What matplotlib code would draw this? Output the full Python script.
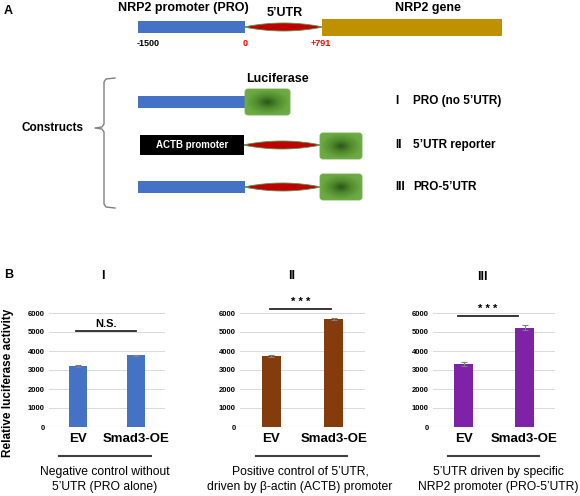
import numpy as np
import matplotlib
matplotlib.use("Agg")
import matplotlib.pyplot as plt
from matplotlib.patches import Rectangle, FancyBboxPatch, Polygon
from matplotlib.colors import LinearSegmentedColormap

plt.rcParams['font.family'] = ['Liberation Sans', 'DejaVu Sans']

# ---------------- data ----------------
groups = ["EV", "Smad3-OE"]
panel_titles = ["I", "II", "III"]
vals_I = [3220, 3770]
err_I = [60, 25]
vals_II = [3740, 5700]
err_II = [40, 50]
vals_III = [3320, 5220]
err_III = [110, 140]
sig_labels = ["N.S.", "* * *", "* * *"]
sig_heights = [5050, 6200, 5850]
yticks = [0, 1000, 2000, 3000, 4000, 5000, 6000]
bar_colors = ["#4472c4", "#843c0c", "#7e22a8"]
descriptions = [
    ["Negative control without", "5\u2019UTR (PRO alone)"],
    ["Positive control of 5\u2019UTR,", "driven by \u03b2-actin (ACTB) promoter"],
    ["5\u2019UTR driven by specific", "NRP2 promoter (PRO-5\u2019UTR)"],
]
construct_labels = [("I", "PRO (no 5\u2019UTR)"), ("II", "5\u2019UTR reporter"), ("III", "PRO-5\u2019UTR")]

W, H = 580, 496
fig = plt.figure(figsize=(W / 100, H / 100), dpi=100)
ov = fig.add_axes([0, 0, 1, 1])
ov.set_xlim(0, W)
ov.set_ylim(H, 0)
ov.axis('off')

BLUE = "#4472c4"
GOLD = "#bf9000"
RED = "#c00000"

green_cmap = LinearSegmentedColormap.from_list("g", ["#2c5519", "#4f8a2c", "#6aa842", "#70ad47"])


def green_box(x0, y0, w, h):
    patch = FancyBboxPatch((x0, y0), w, h, boxstyle="round,pad=0,rounding_size=3",
                           fc='none', ec='#74b04a', lw=0.6, zorder=4)
    ov.add_patch(patch)
    yy, xx = np.mgrid[-1:1:80j, -1:1:80j]
    r = np.sqrt(xx ** 2 + yy ** 2) / np.sqrt(2)
    im = ov.imshow(r, extent=(x0, x0 + w, y0 + h, y0), cmap=green_cmap, vmin=0, vmax=1,
                   aspect='auto', zorder=3, interpolation='bilinear')
    im.set_clip_path(patch)


def lens(x0, x1, yc, h):
    t = np.linspace(0, 1, 60)
    xs = x0 + t * (x1 - x0)
    dy = h / 2 * np.sin(np.pi * t) ** 0.8
    pts = np.concatenate([np.column_stack([xs, yc - dy]), np.column_stack([xs[::-1], yc + dy[::-1]])])
    ov.add_patch(Polygon(pts, closed=True, fc=RED, ec='#4e9a4e', lw=0.6, zorder=3))


# ---------------- Panel A ----------------
ov.text(4, 11, "A", fontsize=9, fontweight='bold', va='center', ha='left')
ov.text(183, 8, "NRP2 promoter (PRO)", fontsize=9, fontweight='bold', ha='center', va='center')
ov.text(285, 13, "5\u2019UTR", fontsize=9, fontweight='bold', ha='center', va='center')
ov.text(428, 8, "NRP2 gene", fontsize=9, fontweight='bold', ha='center', va='center')

ov.add_patch(Rectangle((138, 21), 107, 12, fc=BLUE, ec='none', zorder=3))
lens(245, 322, 27, 8)
ov.add_patch(Rectangle((322, 19), 180, 17, fc=GOLD, ec='none', zorder=3))
ov.text(148, 44, "-1500", fontsize=6.5, fontweight='bold', ha='center', va='center')
ov.text(245, 44, "0", fontsize=6.5, fontweight='bold', color='#ff0000', ha='center', va='center')
ov.text(321, 44, "+791", fontsize=6.5, fontweight='bold', color='#ff0000', ha='center', va='center')

ov.text(277, 79, "Luciferase", fontsize=9, fontweight='bold', ha='center', va='center')

# construct I
ov.add_patch(Rectangle((138, 96), 107, 12, fc=BLUE, ec='none', zorder=3))
green_box(245, 89, 45, 26)
# construct II
ov.add_patch(Rectangle((140, 135), 104, 20, fc='black', ec='none', zorder=3))
ov.text(192, 145, "ACTB promoter", fontsize=7, fontweight='bold', color='white', ha='center', va='center', zorder=4)
lens(244, 320, 145, 8)
green_box(320, 133, 42, 26)
# construct III
ov.add_patch(Rectangle((138, 181), 107, 12, fc=BLUE, ec='none', zorder=3))
lens(245, 320, 187, 8)
green_box(320, 174, 42, 26)

for (num, lab), y in zip(construct_labels, [101, 145, 187]):
    ov.text(395, y, num, fontsize=8.5, fontweight='bold', ha='left', va='center')
    ov.text(413, y, lab, fontsize=8.5, fontweight='bold', ha='left', va='center')

ov.text(53, 128, "Constructs", fontsize=8.5, fontweight='bold', ha='center', va='center')
brace_x = [115, 106, 104, 104, 102, 95, 102, 104, 104, 106, 115]
brace_y = [78, 79, 82, 124, 127, 128, 129, 132, 204, 207, 208]
ov.plot(brace_x, brace_y, color='#808080', lw=1.0)

# ---------------- Panel B ----------------
ov.text(4, 275, "B", fontsize=9, fontweight='bold', va='center', ha='left')
ov.text(8, 383, "Relative luciferase activity", fontsize=8.5, fontweight='bold', rotation=90,
        ha='center', va='center')

axes_px = [(49, 116), (240, 125), (433, 122)]
title_pos = [(103, 276), (292, 276), (482, 277)]
underline = [(59, 151), (256, 347), (448, 539)]
desc_x = [105, 300, 498]
sig_x = [(-0.03, 1.0), (-0.02, 0.96), (-0.09, 0.89)]
vals = [vals_I, vals_II, vals_III]
errs = [err_I, err_II, err_III]

y_top, y_bot = 313, 427
for i in range(3):
    x0, w = axes_px[i]
    ax = fig.add_axes([x0 / W, 1 - y_bot / H, w / W, (y_bot - y_top) / H])
    ax.set_xlim(-0.5, 1.5)
    ax.set_ylim(0, 6000)
    ax.set_yticks(yticks)
    ax.set_yticklabels([str(v) for v in yticks], fontsize=5.5, fontweight='bold')
    ax.grid(axis='y', color='#d9d9d9', lw=0.7)
    ax.set_axisbelow(True)
    for s in ax.spines.values():
        s.set_visible(False)
    ax.axhline(0, color='#bfbfbf', lw=0.8, zorder=1)
    ax.tick_params(length=0, pad=3)
    ax.set_xticks([0, 1])
    ax.set_xticklabels(groups, fontsize=9.5, fontweight='bold')
    ax.tick_params(axis='x', pad=4)
    ax.patch.set_alpha(0)
    ax.bar([0, 1], vals[i], width=0.31, color=bar_colors[i], zorder=2)
    ax.errorbar([0, 1], vals[i], yerr=errs[i], fmt='none', ecolor='#7f7f7f', elinewidth=0.8,
                capsize=2, capthick=0.8, zorder=3)
    sx0, sx1 = sig_x[i]
    ax.plot([sx0, sx1], [sig_heights[i], sig_heights[i]], color='#262626', lw=1.3, clip_on=False)
    ax.text((sx0 + sx1) / 2, sig_heights[i] + 100, sig_labels[i], fontsize=8, fontweight='bold',
            ha='center', va='bottom', clip_on=False)

    tx, ty = title_pos[i]
    ov.text(tx, ty, panel_titles[i], fontsize=9, fontweight='bold', ha='center', va='center')
    ov.plot(underline[i], [456, 456], color='#404040', lw=1.5)
    ov.text(desc_x[i], 472, descriptions[i][0], fontsize=8.7, ha='center', va='center')
    ov.text(desc_x[i], 487, descriptions[i][1], fontsize=8.7, ha='center', va='center')

ov.set_xlim(0, W)
ov.set_ylim(H, 0)
fig.savefig("out.png", dpi=100)
